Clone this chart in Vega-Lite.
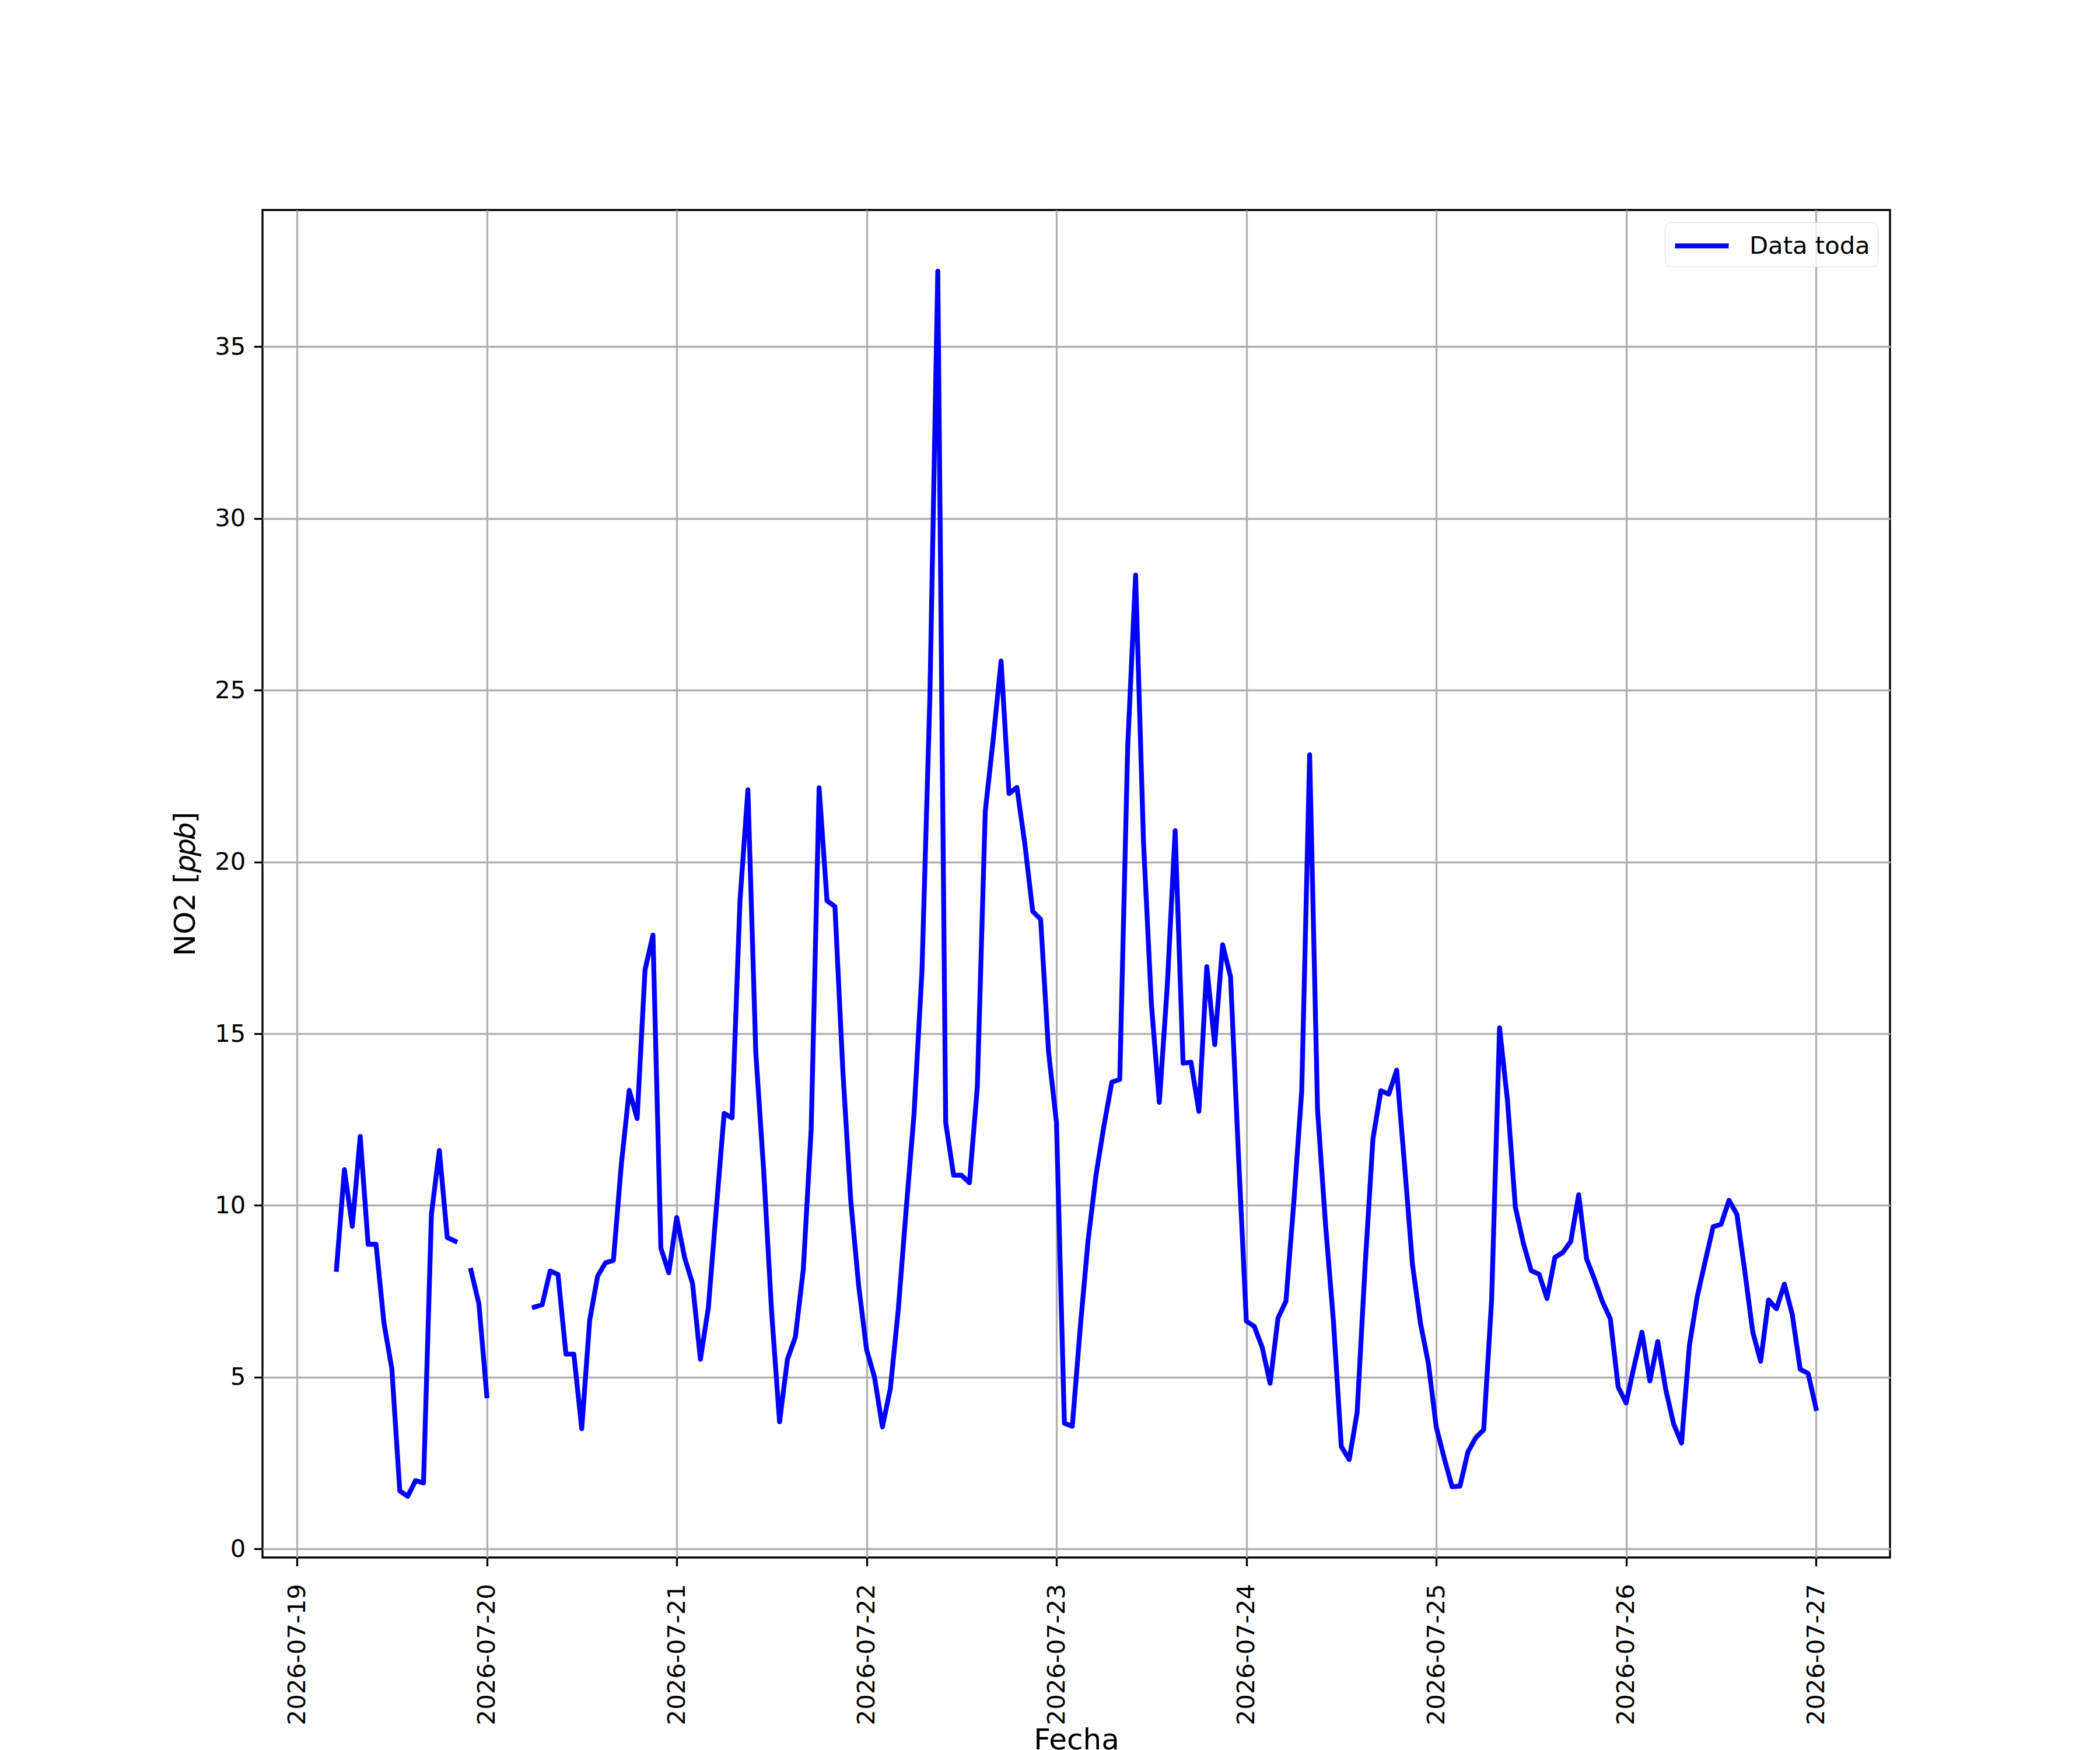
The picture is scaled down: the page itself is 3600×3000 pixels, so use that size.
{
  "$schema": "https://vega.github.io/schema/vega-lite/v6.json",
  "width": 2790,
  "height": 2310,
  "autosize": {"type": "none"},
  "padding": {"left": 450, "top": 360, "right": 360, "bottom": 330},
  "background": "white",
  "config": {
    "font": "DejaVu Sans",
    "view": {"stroke": "black", "strokeWidth": 3.3},
    "axis": {
      "domain": false,
      "grid": true,
      "gridColor": "#b0b0b0",
      "gridWidth": 3.3,
      "tickColor": "black",
      "tickWidth": 3.3,
      "tickSize": 14.6,
      "labelFont": "DejaVu Sans",
      "labelFontSize": 41.7,
      "labelColor": "black",
      "labelPadding": 14.6,
      "labelLimit": 1000,
      "titleFont": "DejaVu Sans",
      "titleFontSize": 50,
      "titleFontWeight": "normal",
      "titleColor": "black"
    }
  },
  "data": {
    "values": [
      {"Fecha": "2026-07-19T05:00:00Z", "NO2": 8.14},
      {"Fecha": "2026-07-19T06:00:00Z", "NO2": 11.04},
      {"Fecha": "2026-07-19T07:00:00Z", "NO2": 9.39},
      {"Fecha": "2026-07-19T08:00:00Z", "NO2": 12.01},
      {"Fecha": "2026-07-19T09:00:00Z", "NO2": 8.87},
      {"Fecha": "2026-07-19T10:00:00Z", "NO2": 8.87},
      {"Fecha": "2026-07-19T11:00:00Z", "NO2": 6.58},
      {"Fecha": "2026-07-19T12:00:00Z", "NO2": 5.24},
      {"Fecha": "2026-07-19T13:00:00Z", "NO2": 1.69},
      {"Fecha": "2026-07-19T14:00:00Z", "NO2": 1.53},
      {"Fecha": "2026-07-19T15:00:00Z", "NO2": 1.99},
      {"Fecha": "2026-07-19T16:00:00Z", "NO2": 1.92},
      {"Fecha": "2026-07-19T17:00:00Z", "NO2": 9.74},
      {"Fecha": "2026-07-19T18:00:00Z", "NO2": 11.6},
      {"Fecha": "2026-07-19T19:00:00Z", "NO2": 9.07},
      {"Fecha": "2026-07-19T20:00:00Z", "NO2": 8.96},
      {"Fecha": "2026-07-19T21:00:00Z", "NO2": null},
      {"Fecha": "2026-07-19T22:00:00Z", "NO2": 8.11},
      {"Fecha": "2026-07-19T23:00:00Z", "NO2": 7.14},
      {"Fecha": "2026-07-20T00:00:00Z", "NO2": 4.46},
      {"Fecha": "2026-07-20T01:00:00Z", "NO2": null},
      {"Fecha": "2026-07-20T02:00:00Z", "NO2": null},
      {"Fecha": "2026-07-20T03:00:00Z", "NO2": null},
      {"Fecha": "2026-07-20T04:00:00Z", "NO2": null},
      {"Fecha": "2026-07-20T05:00:00Z", "NO2": null},
      {"Fecha": "2026-07-20T06:00:00Z", "NO2": 7.04},
      {"Fecha": "2026-07-20T07:00:00Z", "NO2": 7.11},
      {"Fecha": "2026-07-20T08:00:00Z", "NO2": 8.09},
      {"Fecha": "2026-07-20T09:00:00Z", "NO2": 7.99},
      {"Fecha": "2026-07-20T10:00:00Z", "NO2": 5.67},
      {"Fecha": "2026-07-20T11:00:00Z", "NO2": 5.67},
      {"Fecha": "2026-07-20T12:00:00Z", "NO2": 3.5},
      {"Fecha": "2026-07-20T13:00:00Z", "NO2": 6.65},
      {"Fecha": "2026-07-20T14:00:00Z", "NO2": 7.94},
      {"Fecha": "2026-07-20T15:00:00Z", "NO2": 8.33},
      {"Fecha": "2026-07-20T16:00:00Z", "NO2": 8.4},
      {"Fecha": "2026-07-20T17:00:00Z", "NO2": 11.19},
      {"Fecha": "2026-07-20T18:00:00Z", "NO2": 13.35},
      {"Fecha": "2026-07-20T19:00:00Z", "NO2": 12.53},
      {"Fecha": "2026-07-20T20:00:00Z", "NO2": 16.86},
      {"Fecha": "2026-07-20T21:00:00Z", "NO2": 17.87},
      {"Fecha": "2026-07-20T22:00:00Z", "NO2": 8.76},
      {"Fecha": "2026-07-20T23:00:00Z", "NO2": 8.04},
      {"Fecha": "2026-07-21T00:00:00Z", "NO2": 9.65},
      {"Fecha": "2026-07-21T01:00:00Z", "NO2": 8.48},
      {"Fecha": "2026-07-21T02:00:00Z", "NO2": 7.73},
      {"Fecha": "2026-07-21T03:00:00Z", "NO2": 5.52},
      {"Fecha": "2026-07-21T04:00:00Z", "NO2": 7.02},
      {"Fecha": "2026-07-21T05:00:00Z", "NO2": 9.88},
      {"Fecha": "2026-07-21T06:00:00Z", "NO2": 12.68},
      {"Fecha": "2026-07-21T07:00:00Z", "NO2": 12.55},
      {"Fecha": "2026-07-21T08:00:00Z", "NO2": 18.87},
      {"Fecha": "2026-07-21T09:00:00Z", "NO2": 22.1},
      {"Fecha": "2026-07-21T10:00:00Z", "NO2": 14.44},
      {"Fecha": "2026-07-21T11:00:00Z", "NO2": 10.99},
      {"Fecha": "2026-07-21T12:00:00Z", "NO2": 6.89},
      {"Fecha": "2026-07-21T13:00:00Z", "NO2": 3.7},
      {"Fecha": "2026-07-21T14:00:00Z", "NO2": 5.52},
      {"Fecha": "2026-07-21T15:00:00Z", "NO2": 6.17},
      {"Fecha": "2026-07-21T16:00:00Z", "NO2": 8.13},
      {"Fecha": "2026-07-21T17:00:00Z", "NO2": 12.23},
      {"Fecha": "2026-07-21T18:00:00Z", "NO2": 22.16},
      {"Fecha": "2026-07-21T19:00:00Z", "NO2": 18.87},
      {"Fecha": "2026-07-21T20:00:00Z", "NO2": 18.7},
      {"Fecha": "2026-07-21T21:00:00Z", "NO2": 13.92},
      {"Fecha": "2026-07-21T22:00:00Z", "NO2": 10.14},
      {"Fecha": "2026-07-21T23:00:00Z", "NO2": 7.66},
      {"Fecha": "2026-07-22T00:00:00Z", "NO2": 5.8},
      {"Fecha": "2026-07-22T01:00:00Z", "NO2": 5.0},
      {"Fecha": "2026-07-22T02:00:00Z", "NO2": 3.55},
      {"Fecha": "2026-07-22T03:00:00Z", "NO2": 4.66},
      {"Fecha": "2026-07-22T04:00:00Z", "NO2": 6.95},
      {"Fecha": "2026-07-22T05:00:00Z", "NO2": 9.87},
      {"Fecha": "2026-07-22T06:00:00Z", "NO2": 12.67},
      {"Fecha": "2026-07-22T07:00:00Z", "NO2": 16.82},
      {"Fecha": "2026-07-22T08:00:00Z", "NO2": 24.8},
      {"Fecha": "2026-07-22T09:00:00Z", "NO2": 37.2},
      {"Fecha": "2026-07-22T10:00:00Z", "NO2": 12.41},
      {"Fecha": "2026-07-22T11:00:00Z", "NO2": 10.88},
      {"Fecha": "2026-07-22T12:00:00Z", "NO2": 10.88},
      {"Fecha": "2026-07-22T13:00:00Z", "NO2": 10.66},
      {"Fecha": "2026-07-22T14:00:00Z", "NO2": 13.46},
      {"Fecha": "2026-07-22T15:00:00Z", "NO2": 21.47},
      {"Fecha": "2026-07-22T16:00:00Z", "NO2": 23.56},
      {"Fecha": "2026-07-22T17:00:00Z", "NO2": 25.85},
      {"Fecha": "2026-07-22T18:00:00Z", "NO2": 21.99},
      {"Fecha": "2026-07-22T19:00:00Z", "NO2": 22.17},
      {"Fecha": "2026-07-22T20:00:00Z", "NO2": 20.53},
      {"Fecha": "2026-07-22T21:00:00Z", "NO2": 18.56},
      {"Fecha": "2026-07-22T22:00:00Z", "NO2": 18.33},
      {"Fecha": "2026-07-22T23:00:00Z", "NO2": 14.47},
      {"Fecha": "2026-07-23T00:00:00Z", "NO2": 12.41},
      {"Fecha": "2026-07-23T01:00:00Z", "NO2": 3.66},
      {"Fecha": "2026-07-23T02:00:00Z", "NO2": 3.57},
      {"Fecha": "2026-07-23T03:00:00Z", "NO2": 6.43},
      {"Fecha": "2026-07-23T04:00:00Z", "NO2": 8.99},
      {"Fecha": "2026-07-23T05:00:00Z", "NO2": 10.89},
      {"Fecha": "2026-07-23T06:00:00Z", "NO2": 12.32},
      {"Fecha": "2026-07-23T07:00:00Z", "NO2": 13.59},
      {"Fecha": "2026-07-23T08:00:00Z", "NO2": 13.67},
      {"Fecha": "2026-07-23T09:00:00Z", "NO2": 23.34},
      {"Fecha": "2026-07-23T10:00:00Z", "NO2": 28.35},
      {"Fecha": "2026-07-23T11:00:00Z", "NO2": 20.57},
      {"Fecha": "2026-07-23T12:00:00Z", "NO2": 15.86},
      {"Fecha": "2026-07-23T13:00:00Z", "NO2": 13.0},
      {"Fecha": "2026-07-23T14:00:00Z", "NO2": 16.37},
      {"Fecha": "2026-07-23T15:00:00Z", "NO2": 20.91},
      {"Fecha": "2026-07-23T16:00:00Z", "NO2": 14.14},
      {"Fecha": "2026-07-23T17:00:00Z", "NO2": 14.17},
      {"Fecha": "2026-07-23T18:00:00Z", "NO2": 12.74},
      {"Fecha": "2026-07-23T19:00:00Z", "NO2": 16.95},
      {"Fecha": "2026-07-23T20:00:00Z", "NO2": 14.68},
      {"Fecha": "2026-07-23T21:00:00Z", "NO2": 17.59},
      {"Fecha": "2026-07-23T22:00:00Z", "NO2": 16.66},
      {"Fecha": "2026-07-23T23:00:00Z", "NO2": 11.48},
      {"Fecha": "2026-07-24T00:00:00Z", "NO2": 6.63},
      {"Fecha": "2026-07-24T01:00:00Z", "NO2": 6.48},
      {"Fecha": "2026-07-24T02:00:00Z", "NO2": 5.87},
      {"Fecha": "2026-07-24T03:00:00Z", "NO2": 4.82},
      {"Fecha": "2026-07-24T04:00:00Z", "NO2": 6.72},
      {"Fecha": "2026-07-24T05:00:00Z", "NO2": 7.21},
      {"Fecha": "2026-07-24T06:00:00Z", "NO2": 10.1},
      {"Fecha": "2026-07-24T07:00:00Z", "NO2": 13.34},
      {"Fecha": "2026-07-24T08:00:00Z", "NO2": 23.12},
      {"Fecha": "2026-07-24T09:00:00Z", "NO2": 12.78},
      {"Fecha": "2026-07-24T10:00:00Z", "NO2": 9.46},
      {"Fecha": "2026-07-24T11:00:00Z", "NO2": 6.65},
      {"Fecha": "2026-07-24T12:00:00Z", "NO2": 2.98},
      {"Fecha": "2026-07-24T13:00:00Z", "NO2": 2.6},
      {"Fecha": "2026-07-24T14:00:00Z", "NO2": 3.97},
      {"Fecha": "2026-07-24T15:00:00Z", "NO2": 8.2},
      {"Fecha": "2026-07-24T16:00:00Z", "NO2": 11.94},
      {"Fecha": "2026-07-24T17:00:00Z", "NO2": 13.34},
      {"Fecha": "2026-07-24T18:00:00Z", "NO2": 13.24},
      {"Fecha": "2026-07-24T19:00:00Z", "NO2": 13.94},
      {"Fecha": "2026-07-24T20:00:00Z", "NO2": 11.16},
      {"Fecha": "2026-07-24T21:00:00Z", "NO2": 8.27},
      {"Fecha": "2026-07-24T22:00:00Z", "NO2": 6.58},
      {"Fecha": "2026-07-24T23:00:00Z", "NO2": 5.41},
      {"Fecha": "2026-07-25T00:00:00Z", "NO2": 3.55},
      {"Fecha": "2026-07-25T01:00:00Z", "NO2": 2.65},
      {"Fecha": "2026-07-25T02:00:00Z", "NO2": 1.81},
      {"Fecha": "2026-07-25T03:00:00Z", "NO2": 1.83},
      {"Fecha": "2026-07-25T04:00:00Z", "NO2": 2.82},
      {"Fecha": "2026-07-25T05:00:00Z", "NO2": 3.24},
      {"Fecha": "2026-07-25T06:00:00Z", "NO2": 3.47},
      {"Fecha": "2026-07-25T07:00:00Z", "NO2": 7.25},
      {"Fecha": "2026-07-25T08:00:00Z", "NO2": 15.17},
      {"Fecha": "2026-07-25T09:00:00Z", "NO2": 13.06},
      {"Fecha": "2026-07-25T10:00:00Z", "NO2": 9.95},
      {"Fecha": "2026-07-25T11:00:00Z", "NO2": 8.91},
      {"Fecha": "2026-07-25T12:00:00Z", "NO2": 8.1},
      {"Fecha": "2026-07-25T13:00:00Z", "NO2": 8.0},
      {"Fecha": "2026-07-25T14:00:00Z", "NO2": 7.29},
      {"Fecha": "2026-07-25T15:00:00Z", "NO2": 8.49},
      {"Fecha": "2026-07-25T16:00:00Z", "NO2": 8.63},
      {"Fecha": "2026-07-25T17:00:00Z", "NO2": 8.95},
      {"Fecha": "2026-07-25T18:00:00Z", "NO2": 10.31},
      {"Fecha": "2026-07-25T19:00:00Z", "NO2": 8.45},
      {"Fecha": "2026-07-25T20:00:00Z", "NO2": 7.85},
      {"Fecha": "2026-07-25T21:00:00Z", "NO2": 7.2},
      {"Fecha": "2026-07-25T22:00:00Z", "NO2": 6.7},
      {"Fecha": "2026-07-25T23:00:00Z", "NO2": 4.71},
      {"Fecha": "2026-07-26T00:00:00Z", "NO2": 4.25},
      {"Fecha": "2026-07-26T01:00:00Z", "NO2": 5.31},
      {"Fecha": "2026-07-26T02:00:00Z", "NO2": 6.31},
      {"Fecha": "2026-07-26T03:00:00Z", "NO2": 4.89},
      {"Fecha": "2026-07-26T04:00:00Z", "NO2": 6.04},
      {"Fecha": "2026-07-26T05:00:00Z", "NO2": 4.65},
      {"Fecha": "2026-07-26T06:00:00Z", "NO2": 3.64},
      {"Fecha": "2026-07-26T07:00:00Z", "NO2": 3.08},
      {"Fecha": "2026-07-26T08:00:00Z", "NO2": 5.93},
      {"Fecha": "2026-07-26T09:00:00Z", "NO2": 7.36},
      {"Fecha": "2026-07-26T10:00:00Z", "NO2": 8.38},
      {"Fecha": "2026-07-26T11:00:00Z", "NO2": 9.38},
      {"Fecha": "2026-07-26T12:00:00Z", "NO2": 9.45},
      {"Fecha": "2026-07-26T13:00:00Z", "NO2": 10.15},
      {"Fecha": "2026-07-26T14:00:00Z", "NO2": 9.74},
      {"Fecha": "2026-07-26T15:00:00Z", "NO2": 8.08},
      {"Fecha": "2026-07-26T16:00:00Z", "NO2": 6.32},
      {"Fecha": "2026-07-26T17:00:00Z", "NO2": 5.46},
      {"Fecha": "2026-07-26T18:00:00Z", "NO2": 7.25},
      {"Fecha": "2026-07-26T19:00:00Z", "NO2": 6.99},
      {"Fecha": "2026-07-26T20:00:00Z", "NO2": 7.71},
      {"Fecha": "2026-07-26T21:00:00Z", "NO2": 6.82},
      {"Fecha": "2026-07-26T22:00:00Z", "NO2": 5.23},
      {"Fecha": "2026-07-26T23:00:00Z", "NO2": 5.11},
      {"Fecha": "2026-07-27T00:00:00Z", "NO2": 4.09}
    ]
  },
  "mark": {
    "type": "line",
    "strokeWidth": 8.3,
    "strokeJoin": "round",
    "strokeCap": "square",
    "invalid": "break-paths-filter-domains"
  },
  "encoding": {
    "x": {
      "field": "Fecha",
      "type": "temporal",
      "scale": {
        "type": "utc",
        "domain": [
          {"year": 2026, "month": 7, "date": 18, "hours": 19, "minutes": 39, "utc": true},
          {"year": 2026, "month": 7, "date": 27, "hours": 9, "minutes": 21, "utc": true}
        ]
      },
      "axis": {
        "title": "Fecha",
        "format": "%Y-%m-%d",
        "labelAngle": 270,
        "labelAlign": "right",
        "labelBaseline": "middle",
        "labelPadding": 30,
        "titlePadding": 88,
        "values": [
          {"year": 2026, "month": 7, "date": 19, "utc": true},
          {"year": 2026, "month": 7, "date": 20, "utc": true},
          {"year": 2026, "month": 7, "date": 21, "utc": true},
          {"year": 2026, "month": 7, "date": 22, "utc": true},
          {"year": 2026, "month": 7, "date": 23, "utc": true},
          {"year": 2026, "month": 7, "date": 24, "utc": true},
          {"year": 2026, "month": 7, "date": 25, "utc": true},
          {"year": 2026, "month": 7, "date": 26, "utc": true},
          {"year": 2026, "month": 7, "date": 27, "utc": true}
        ]
      }
    },
    "y": {
      "field": "NO2",
      "type": "quantitative",
      "scale": {"domain": [-0.25, 38.98], "nice": false, "zero": false},
      "axis": {
        "title": "NO2 [𝑝𝑝𝑏]",
        "values": [0, 5, 10, 15, 20, 25, 30, 35],
        "titlePadding": 24
      }
    },
    "stroke": {
      "datum": "Data toda",
      "type": "nominal",
      "scale": {"range": ["#0000ff"]},
      "legend": {
        "title": null,
        "orient": "top-right",
        "offset": 21,
        "padding": 13,
        "symbolType": "M-1,0L3,0",
        "symbolSize": 2116,
        "symbolStrokeWidth": 8.3,
        "labelOffset": 77,
        "labelLimit": 1000,
        "labelFont": "DejaVu Sans",
        "labelFontSize": 41.7,
        "labelColor": "black",
        "strokeColor": "#d4d4d4",
        "fillColor": "rgba(255,255,255,0.8)",
        "cornerRadius": 10
      }
    }
  }
}
